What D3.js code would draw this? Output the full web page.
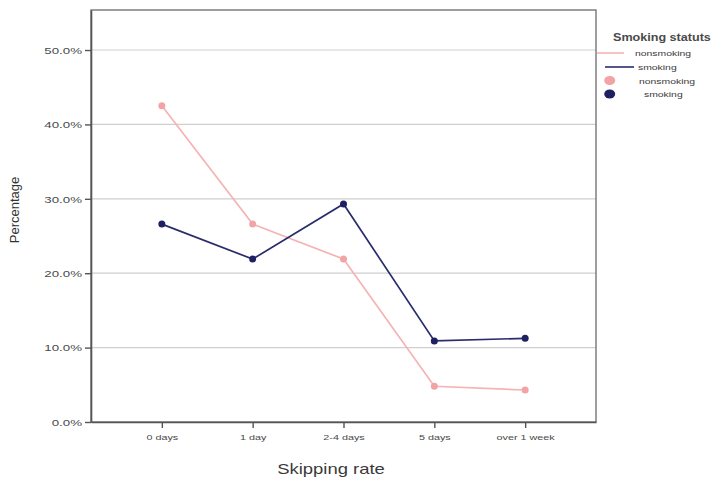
<!DOCTYPE html>
<html>
<head>
<meta charset="utf-8">
<script src="https://cdn.jsdelivr.net/npm/d3@7/dist/d3.min.js"></script>
<style>
  html, body { margin: 0; padding: 0; background: #fff; }
  svg { display: block; }
  text { font-family: "Liberation Sans", Arial, sans-serif; }
</style>
</head>
<body>
<svg id="chart" width="712" height="485"></svg>
<script>
const categories = ["0 days", "1 day", "2-4 days", "5 days", "over 1 week"];
const nonsmoking = [42.5, 26.6, 21.9, 4.8, 4.3];
const smoking = [26.6, 21.9, 29.3, 10.9, 11.25];
const yTicks = [0, 10, 20, 30, 40, 50];
const seriesNames = ["nonsmoking", "smoking"];
const colorsLine = ["#f5b3b3", "#2a2d6c"];
const colorsDot = ["#f2a3a6", "#1e2061"];

const svg = d3.select("#chart");
const L = 91, R = 596, T = 10, B = 422;

const x = d3.scalePoint().domain(categories).range([L, R]).padding(0.78);
const y = d3.scaleLinear().domain([0, 55.38]).range([B, T]);

// gridlines
svg.append("g").selectAll("line").data(yTicks.filter(d => d > 0)).join("line")
  .attr("x1", L).attr("x2", R)
  .attr("y1", d => y(d)).attr("y2", d => y(d))
  .attr("stroke", "#cfcfcf").attr("stroke-width", 1.2);

// frame
svg.append("rect").attr("x", L).attr("y", T).attr("width", R - L).attr("height", B - T)
  .attr("fill", "none").attr("stroke", "#6a6a6a").attr("stroke-width", 1.3);

// y axis
const yAxis = svg.append("g").attr("transform", `translate(${L},0)`)
  .call(d3.axisLeft(y).tickValues(yTicks).tickSize(6).tickSizeOuter(0).tickPadding(3)
    .tickFormat(d => d3.format(".1f")(d) + "%"));
yAxis.select(".domain").attr("stroke", "#555").attr("stroke-width", 1.6);
yAxis.selectAll(".tick line").attr("stroke", "#555").attr("stroke-width", 1.4);
yAxis.selectAll(".tick text")
  .attr("font-size", 9.5).attr("fill", "#4a4a4a")
  .attr("x", null).attr("dy", "0.35em")
  .attr("transform", "translate(-9,0) scale(1.4,1)");

// x axis
const xAxis = svg.append("g").attr("transform", `translate(0,${B})`)
  .call(d3.axisBottom(x).tickSize(6).tickSizeOuter(0).tickPadding(4));
xAxis.select(".domain").attr("stroke", "#555").attr("stroke-width", 1.6);
xAxis.selectAll(".tick line").attr("stroke", "#555").attr("stroke-width", 1.4);
xAxis.selectAll(".tick text")
  .attr("font-size", 8).attr("fill", "#4a4a4a")
  .attr("y", null).attr("dy", null)
  .attr("transform", "translate(0,18) scale(1.35,1)");

// axis titles
svg.append("text").attr("transform", "translate(19,210) rotate(-90)")
  .attr("text-anchor", "middle").attr("font-size", 13).attr("fill", "#333")
  .text("Percentage");
svg.append("text").attr("transform", "translate(331,474) scale(1.23,1)")
  .attr("text-anchor", "middle").attr("font-size", 15).attr("fill", "#3a3a3a")
  .text("Skipping rate");

// lines and points
const data = [nonsmoking, smoking];
const line = d3.line().x((d, i) => x(categories[i])).y(d => y(d));
data.forEach((vals, s) => {
  svg.append("path").datum(vals)
    .attr("d", line).attr("fill", "none")
    .attr("stroke", colorsLine[s]).attr("stroke-width", 1.7);
});
data.forEach((vals, s) => {
  svg.append("g").selectAll("circle").data(vals).join("circle")
    .attr("cx", (d, i) => x(categories[i])).attr("cy", d => y(d))
    .attr("r", 3.5).attr("fill", colorsDot[s]);
});

// legend
const lg = svg.append("g");
lg.append("text").attr("transform", "translate(613,41) scale(1.2,1)")
  .attr("font-size", 10.5).attr("font-weight", "bold").attr("fill", "#4a4a4a")
  .text("Smoking statuts");
const legLines = [
  {x1: 597, x2: 624, y: 53, tx: 635},
  {x1: 605, x2: 634, y: 67, tx: 638}
];
legLines.forEach((d, i) => {
  lg.append("line").attr("x1", d.x1).attr("x2", d.x2).attr("y1", d.y).attr("y2", d.y)
    .attr("stroke", colorsLine[i]).attr("stroke-width", 1.6);
  lg.append("text").attr("transform", `translate(${d.tx},${d.y + 3}) scale(1.3,1)`)
    .attr("font-size", 8).attr("fill", "#3a3a3a").text(seriesNames[i]);
});
const legDots = [
  {cy: 80.5, tx: 639},
  {cy: 94, tx: 644}
];
legDots.forEach((d, i) => {
  lg.append("ellipse").attr("cx", 609.7).attr("cy", d.cy).attr("rx", 5.5).attr("ry", 4.5)
    .attr("fill", colorsDot[i]);
  lg.append("text").attr("transform", `translate(${d.tx},${d.cy + 3}) scale(1.3,1)`)
    .attr("font-size", 8).attr("fill", "#3a3a3a").text(seriesNames[i]);
});
</script>
</body>
</html>
